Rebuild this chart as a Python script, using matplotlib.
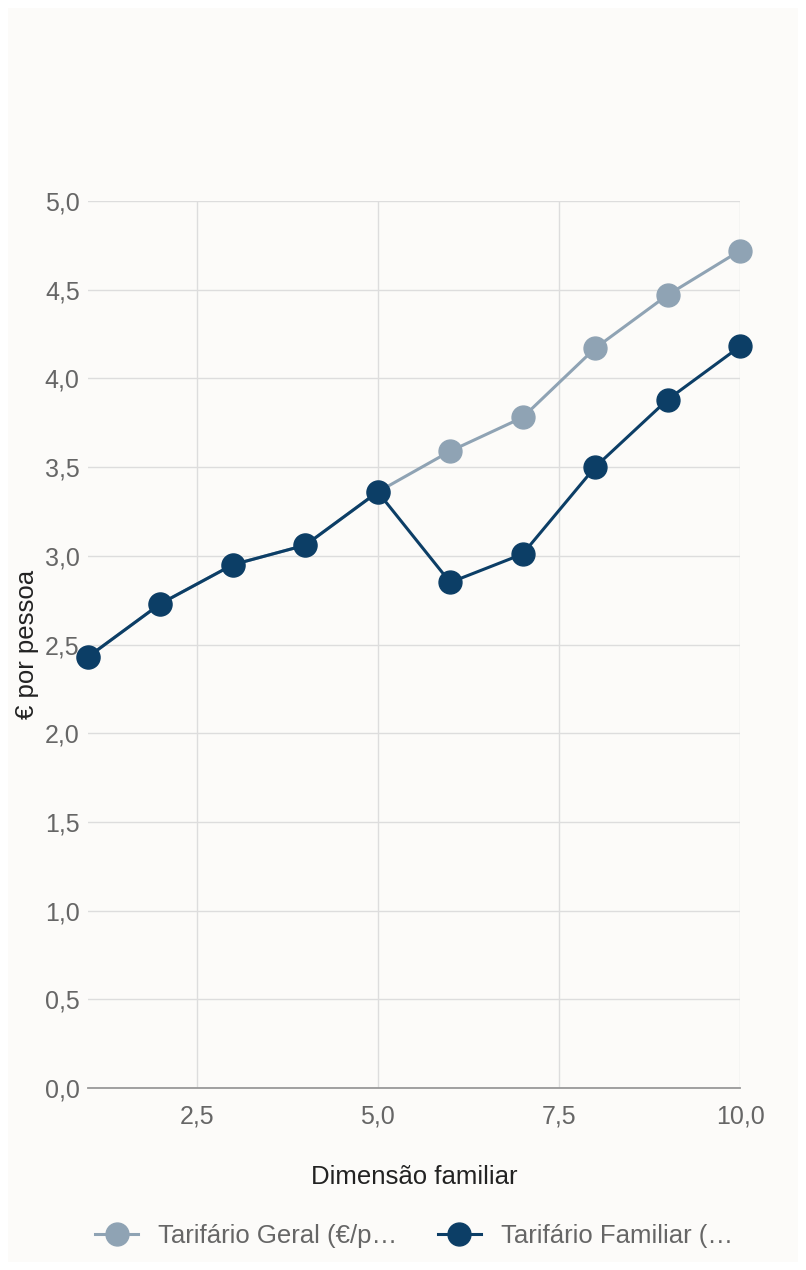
import matplotlib.pyplot as plt
from matplotlib.lines import Line2D
from matplotlib.ticker import FuncFormatter

plt.rcParams['font.family'] = ['Liberation Sans', 'DejaVu Sans']

# dados
dimensao = [1, 2, 3, 4, 5, 6, 7, 8, 9, 10]
tarifario_geral = [2.43, 2.73, 2.95, 3.06, 3.36, 3.59, 3.78, 4.17, 4.47, 4.72]
tarifario_familiar = [2.43, 2.73, 2.95, 3.06, 3.36, 2.85, 3.01, 3.50, 3.88, 4.18]
legenda = ['Tarifário Geral (€/p…', 'Tarifário Familiar (…']
x_ticks = [2.5, 5.0, 7.5, 10.0]
y_ticks = [0, 0.5, 1.0, 1.5, 2.0, 2.5, 3.0, 3.5, 4.0, 4.5, 5.0]

cor_geral = '#8fa3b4'
cor_familiar = '#0c3e66'
fundo = '#fcfbf9'
fs = 18.5
ms = 16.5

fig = plt.figure(figsize=(8.06, 12.70), dpi=100)
fig.patch.set_facecolor('white')
fig.patches.append(plt.Rectangle((8 / 806, 8 / 1270), 790 / 806, 1254 / 1270,
                                 transform=fig.transFigure, facecolor=fundo,
                                 edgecolor='none', zorder=-10))

ax = fig.add_axes([88 / 806, 1 - 1088 / 1270, (740 - 88) / 806, (1088 - 201) / 1270])
ax.set_facecolor(fundo)

ax.plot(dimensao, tarifario_geral, color=cor_geral, lw=2.2, marker='o',
        markersize=ms, zorder=3, clip_on=False)
ax.plot(dimensao, tarifario_familiar, color=cor_familiar, lw=2.2, marker='o',
        markersize=ms, zorder=4, clip_on=False)

ax.set_xlim(1, 10)
ax.set_ylim(0, 5)
ax.set_xticks(x_ticks)
ax.set_yticks(y_ticks)
fmt = FuncFormatter(lambda v, p: f'{v:.1f}'.replace('.', ','))
ax.xaxis.set_major_formatter(fmt)
ax.yaxis.set_major_formatter(fmt)
ax.tick_params(length=0, labelsize=18, labelcolor='#666666')
ax.tick_params(axis='x', pad=12)
ax.tick_params(axis='y', pad=6)
ax.grid(True, color='#dddddd', lw=1)
ax.set_axisbelow(True)
for s in ['top', 'right', 'left']:
    ax.spines[s].set_visible(False)
ax.spines['bottom'].set_color('#999999')
ax.spines['bottom'].set_linewidth(1.3)

ax.set_xlabel('Dimensão familiar', fontsize=fs, color='#222222', labelpad=26)
ax.set_ylabel('€ por pessoa', fontsize=fs, color='#222222', labelpad=4)

handles = [Line2D([], [], color=cor_geral, lw=2.2, marker='o', markersize=ms),
           Line2D([], [], color=cor_familiar, lw=2.2, marker='o', markersize=ms)]
fig.legend(handles, legenda, loc='center', bbox_to_anchor=(414 / 806, 1 - 1236 / 1270),
           ncol=2, frameon=False, fontsize=fs, labelcolor='#666666',
           handlelength=1.65, columnspacing=1.6, handletextpad=0.78)

fig.savefig('out.png', dpi=100, facecolor=fig.get_facecolor())
